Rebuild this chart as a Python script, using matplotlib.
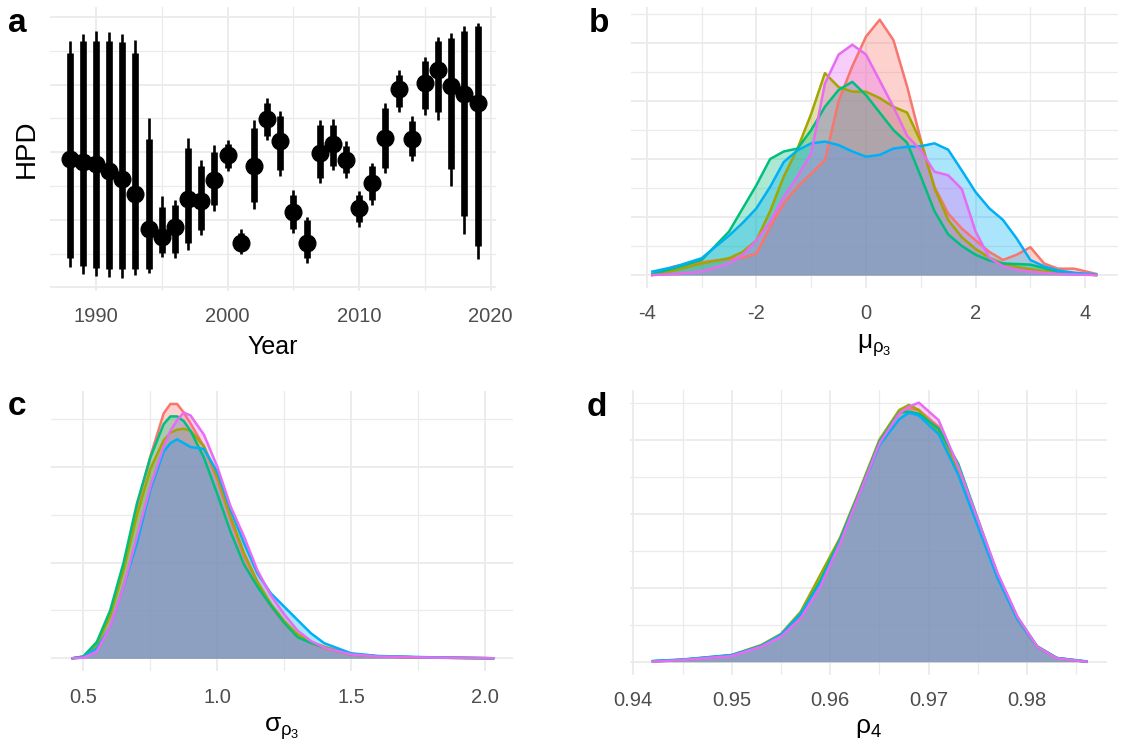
import matplotlib
matplotlib.use("Agg")
import matplotlib.pyplot as plt

plt.rcParams['font.family'] = ['Liberation Sans', 'DejaVu Sans']
plt.rcParams['mathtext.fontset'] = 'custom'
plt.rcParams['mathtext.rm'] = 'Liberation Sans'
plt.rcParams['mathtext.it'] = 'Liberation Sans'

# ---- panel a: HPD intervals per year ----
years = list(range(1988, 2020))
hpd_mid = [3.80, 3.72, 3.65, 3.43, 3.21, 2.77, 1.72, 1.48, 1.78, 2.61, 2.56, 3.18, 3.92, 1.32, 3.60, 4.98,
           4.32, 2.24, 1.32, 3.97, 4.25, 3.77, 2.34, 3.08, 4.43, 5.87, 4.40, 6.04, 6.44, 5.97, 5.73, 5.45]
inner_lo = [0.88, 0.63, 0.58, 0.53, 0.53, 0.53, 0.55, 1.01, 1.01, 1.32, 1.70, 2.44, 3.53, 1.09, 2.52, 4.48,
            3.46, 1.72, 0.86, 3.23, 3.60, 3.38, 1.92, 2.59, 3.53, 5.33, 3.89, 5.27, 5.20, 3.50, 2.11, 1.22]
inner_hi = [6.93, 7.28, 7.28, 7.28, 7.25, 6.93, 4.39, 2.39, 2.44, 4.12, 3.58, 4.02, 4.25, 1.60, 4.71, 5.45,
            5.08, 2.74, 1.98, 4.81, 4.81, 4.19, 2.74, 3.58, 5.30, 6.29, 4.91, 6.71, 7.28, 7.38, 7.60, 7.74]
outer_lo = [0.61, 0.40, 0.34, 0.30, 0.29, 0.36, 0.41, 0.89, 0.86, 1.11, 1.55, 2.27, 3.43, 0.99, 2.31, 4.35,
            3.31, 1.60, 0.73, 3.08, 3.46, 3.23, 1.80, 2.44, 3.38, 5.20, 3.75, 5.11, 4.94, 3.00, 1.57, 0.83]
outer_hi = [7.28, 7.50, 7.58, 7.56, 7.51, 7.31, 5.01, 2.69, 2.59, 4.43, 3.77, 4.20, 4.37, 1.72, 4.96, 5.60,
            5.23, 2.88, 2.09, 4.96, 4.99, 4.32, 2.86, 3.69, 5.45, 6.44, 5.06, 6.83, 7.40, 7.53, 7.75, 7.84]

chain_colors = ['#F8766D', '#A3A500', '#00BF7D', '#00B0F6', '#E76BF3']

# ---- panel b: density of mu_rho3, one curve per chain ----
mu_x = [-3.9, -3.5, -3.0, -2.5, -2.25, -2.0, -1.75, -1.5, -1.25, -1.0, -0.75, -0.5, -0.25, 0.0, 0.25,
        0.5, 0.75, 1.0, 1.25, 1.5, 1.75, 2.0, 2.25, 2.5, 2.75, 3.0, 3.25, 3.5, 3.8, 4.2]
mu_red = [0.000, 0.015, 0.022, 0.028, 0.030, 0.037, 0.083, 0.124, 0.152, 0.175, 0.198, 0.300, 0.360, 0.411, 0.440,
          0.405, 0.325, 0.233, 0.152, 0.106, 0.080, 0.060, 0.040, 0.026, 0.035, 0.048, 0.020, 0.011, 0.011, 0.002]
mu_olive = [0.000, 0.008, 0.020, 0.029, 0.040, 0.060, 0.110, 0.170, 0.218, 0.278, 0.348, 0.324, 0.316, 0.316, 0.305,
            0.290, 0.280, 0.230, 0.150, 0.095, 0.065, 0.045, 0.030, 0.020, 0.014, 0.010, 0.007, 0.005, 0.002, 0.000]
mu_green = [0.002, 0.012, 0.026, 0.075, 0.115, 0.155, 0.200, 0.213, 0.218, 0.250, 0.290, 0.319, 0.333, 0.310, 0.280,
            0.250, 0.228, 0.170, 0.110, 0.070, 0.050, 0.035, 0.025, 0.020, 0.019, 0.018, 0.012, 0.006, 0.003, 0.000]
mu_blue = [0.006, 0.014, 0.029, 0.068, 0.090, 0.115, 0.152, 0.195, 0.215, 0.227, 0.230, 0.224, 0.213, 0.204, 0.207,
           0.218, 0.221, 0.222, 0.227, 0.216, 0.180, 0.143, 0.115, 0.095, 0.063, 0.026, 0.015, 0.008, 0.004, 0.001]
mu_pink = [0.000, 0.002, 0.006, 0.020, 0.035, 0.060, 0.092, 0.135, 0.170, 0.210, 0.330, 0.380, 0.397, 0.380, 0.335,
           0.290, 0.240, 0.215, 0.178, 0.172, 0.148, 0.075, 0.030, 0.015, 0.009, 0.006, 0.004, 0.002, 0.001, 0.000]

# ---- panel c: density of sigma_rho3 ----
sig_x = [0.46, 0.5, 0.55, 0.6, 0.65, 0.7, 0.75, 0.8, 0.825, 0.85, 0.875, 0.9, 0.95, 1.0, 1.05, 1.1, 1.15,
         1.2, 1.25, 1.3, 1.35, 1.4, 1.5, 1.6, 1.8, 2.03]
sig_red = [0.0, 0.017, 0.157, 0.471, 0.959, 1.586, 2.109, 2.563, 2.66, 2.66, 2.57, 2.458, 2.214, 1.865, 1.447,
           1.064, 0.785, 0.541, 0.366, 0.227, 0.157, 0.105, 0.035, 0.017, 0.007, 0.0]
sig_olive = [0.0, 0.015, 0.14, 0.44, 0.92, 1.50, 1.98, 2.28, 2.36, 2.39, 2.40, 2.38, 2.22, 1.90, 1.48,
             1.10, 0.80, 0.57, 0.39, 0.25, 0.17, 0.12, 0.045, 0.02, 0.006, 0.0]
sig_green = [0.0, 0.02, 0.17, 0.50, 1.00, 1.62, 2.10, 2.45, 2.53, 2.53, 2.48, 2.38, 2.10, 1.72, 1.32,
             0.98, 0.75, 0.55, 0.37, 0.22, 0.16, 0.11, 0.04, 0.02, 0.006, 0.0]
sig_blue = [0.0, 0.010, 0.105, 0.331, 0.750, 1.203, 1.761, 2.162, 2.25, 2.29, 2.25, 2.21, 2.19, 1.95, 1.551,
            1.203, 0.889, 0.680, 0.540, 0.400, 0.261, 0.157, 0.052, 0.024, 0.010, 0.0]
sig_pink = [0.0, 0.005, 0.07, 0.331, 0.750, 1.273, 1.796, 2.214, 2.38, 2.49, 2.57, 2.54, 2.34, 2.005, 1.587,
            1.273, 0.92, 0.66, 0.46, 0.29, 0.18, 0.11, 0.04, 0.018, 0.007, 0.0]

# ---- panel d: density of rho4 ----
rho_x = [0.942, 0.945, 0.95, 0.953, 0.955, 0.957, 0.959, 0.961, 0.963, 0.965, 0.967, 0.968, 0.969, 0.971,
         0.973, 0.975, 0.977, 0.979, 0.981, 0.983, 0.986]
rho_red = [0.1, 0.5, 1.6, 4.2, 7.0, 12.5, 21.5, 32.8, 46.0, 59.5, 67.5, 68.5, 68.0, 63.5, 52.0, 38.0, 23.5,
           12.0, 4.1, 1.0, 0.0]
rho_olive = [0.1, 0.5, 1.8, 4.5, 7.5, 13.5, 23.5, 33.5, 46.5, 60.0, 68.0, 69.4, 68.0, 62.0, 51.5, 37.5, 23.0,
             11.5, 4.0, 0.9, 0.0]
rho_green = [0.1, 0.5, 1.7, 4.3, 7.2, 12.8, 22.0, 33.0, 46.0, 59.5, 67.3, 67.6, 67.0, 63.0, 53.5, 38.5, 23.5,
             12.0, 4.2, 1.0, 0.0]
rho_blue = [0.2, 0.6, 1.8, 4.2, 7.3, 13.0, 21.0, 32.5, 45.5, 58.5, 65.5, 67.3, 66.5, 61.5, 50.5, 36.5, 22.5,
            11.5, 4.0, 1.0, 0.1]
rho_pink = [0.0, 0.45, 1.53, 4.05, 6.76, 11.7, 20.3, 32.0, 45.5, 59.0, 67.1, 68.9, 70.0, 65.3, 52.7, 38.3, 23.9,
            12.2, 4.05, 0.9, 0.0]

GRID = '#EBEBEB'


def minimal(ax, xmajor, xminor, ymajor, yminor):
    for s in ax.spines.values():
        s.set_visible(False)
    ax.set_xticks(xmajor)
    ax.set_xticks(xminor, minor=True)
    ax.set_yticks(ymajor)
    ax.set_yticks(yminor, minor=True)
    ax.grid(which='major', color=GRID, linewidth=1.3)
    ax.grid(which='minor', color=GRID, linewidth=0.9)
    ax.set_axisbelow(True)
    ax.tick_params(which='both', length=0, labelsize=14.5, labelcolor='#4D4D4D', pad=12)
    ax.tick_params(axis='y', which='both', labelleft=False, pad=0)


def densities(ax, x, curves):
    for y, c in zip(curves, chain_colors):
        ax.fill_between(x, y, 0, color=c, alpha=0.33, linewidth=0)
        ax.plot(x, y, color=c, linewidth=1.8)


fig = plt.figure(figsize=(11.3, 7.42), dpi=100)

# panel a
ax_a = fig.add_axes([0.0442, 0.6082, 0.3947, 0.3824])
minimal(ax_a, [1990, 2000, 2010, 2020], [1995, 2005, 2015], [0, 2, 4, 6, 8], [1, 3, 5, 7])
ax_a.vlines(years, outer_lo, outer_hi, color='black', linewidth=1.9)
ax_a.vlines(years, inner_lo, inner_hi, color='black', linewidth=4.8)
ax_a.plot(years, hpd_mid, 'o', color='black', markersize=12)
ax_a.set_xlim(1986.5, 2020.4)
ax_a.set_ylim(-0.1, 8.3)
ax_a.set_xlabel('Year', fontsize=18, labelpad=6)
ax_a.set_ylabel('HPD', fontsize=20, labelpad=7)

# panel b
ax_b = fig.add_axes([0.5584, 0.6121, 0.4310, 0.3785])
minimal(ax_b, [-4, -2, 0, 2, 4], [-3, -1, 1, 3], [0, 0.1, 0.2, 0.3, 0.4], [0.05, 0.15, 0.25, 0.35, 0.45])
densities(ax_b, mu_x, [mu_red, mu_olive, mu_green, mu_blue, mu_pink])
ax_b.set_xlim(-4.29, 4.6)
ax_b.set_ylim(-0.022, 0.462)
ax_b.set_xticklabels(['-4', '-2', '0', '2', '4'])
ax_b.set_xlabel(r'$\mu_{\rho_3}$', fontsize=19, labelpad=6)

# panel c
ax_c = fig.add_axes([0.0449, 0.0956, 0.4094, 0.3780])
minimal(ax_c, [0.5, 1.0, 1.5, 2.0], [0.75, 1.25, 1.75], [0, 1, 2], [0.5, 1.5, 2.5])
densities(ax_c, sig_x, [sig_red, sig_olive, sig_green, sig_blue, sig_pink])
ax_c.set_xlim(0.378, 2.106)
ax_c.set_ylim(-0.134, 2.80)
ax_c.set_xticklabels(['0.5', '1.0', '1.5', '2.0'])
ax_c.set_xlabel(r'$\sigma_{\rho_3}$', fontsize=19, labelpad=6)

# panel d
ax_d = fig.add_axes([0.5578, 0.0908, 0.4218, 0.3840])
minimal(ax_d, [0.94, 0.95, 0.96, 0.97, 0.98], [0.945, 0.955, 0.965, 0.975, 0.985],
        [0, 20, 40, 60], [10, 30, 50, 70])
densities(ax_d, rho_x, [rho_red, rho_olive, rho_green, rho_blue, rho_pink])
ax_d.set_xlim(0.9397, 0.9881)
ax_d.set_ylim(-3.5, 73.5)
ax_d.set_xticklabels(['0.94', '0.95', '0.96', '0.97', '0.98'])
ax_d.set_xlabel(r'$\rho_4$', fontsize=19, labelpad=4)

# panel letters
for lab, px, py in [('a', 8, 32), ('b', 589, 32), ('c', 8, 415), ('d', 587, 416)]:
    fig.text(px / 1130, 1 - py / 742, lab, fontsize=24, fontweight='bold', ha='left', va='baseline')

fig.savefig('out.png', dpi=100)
